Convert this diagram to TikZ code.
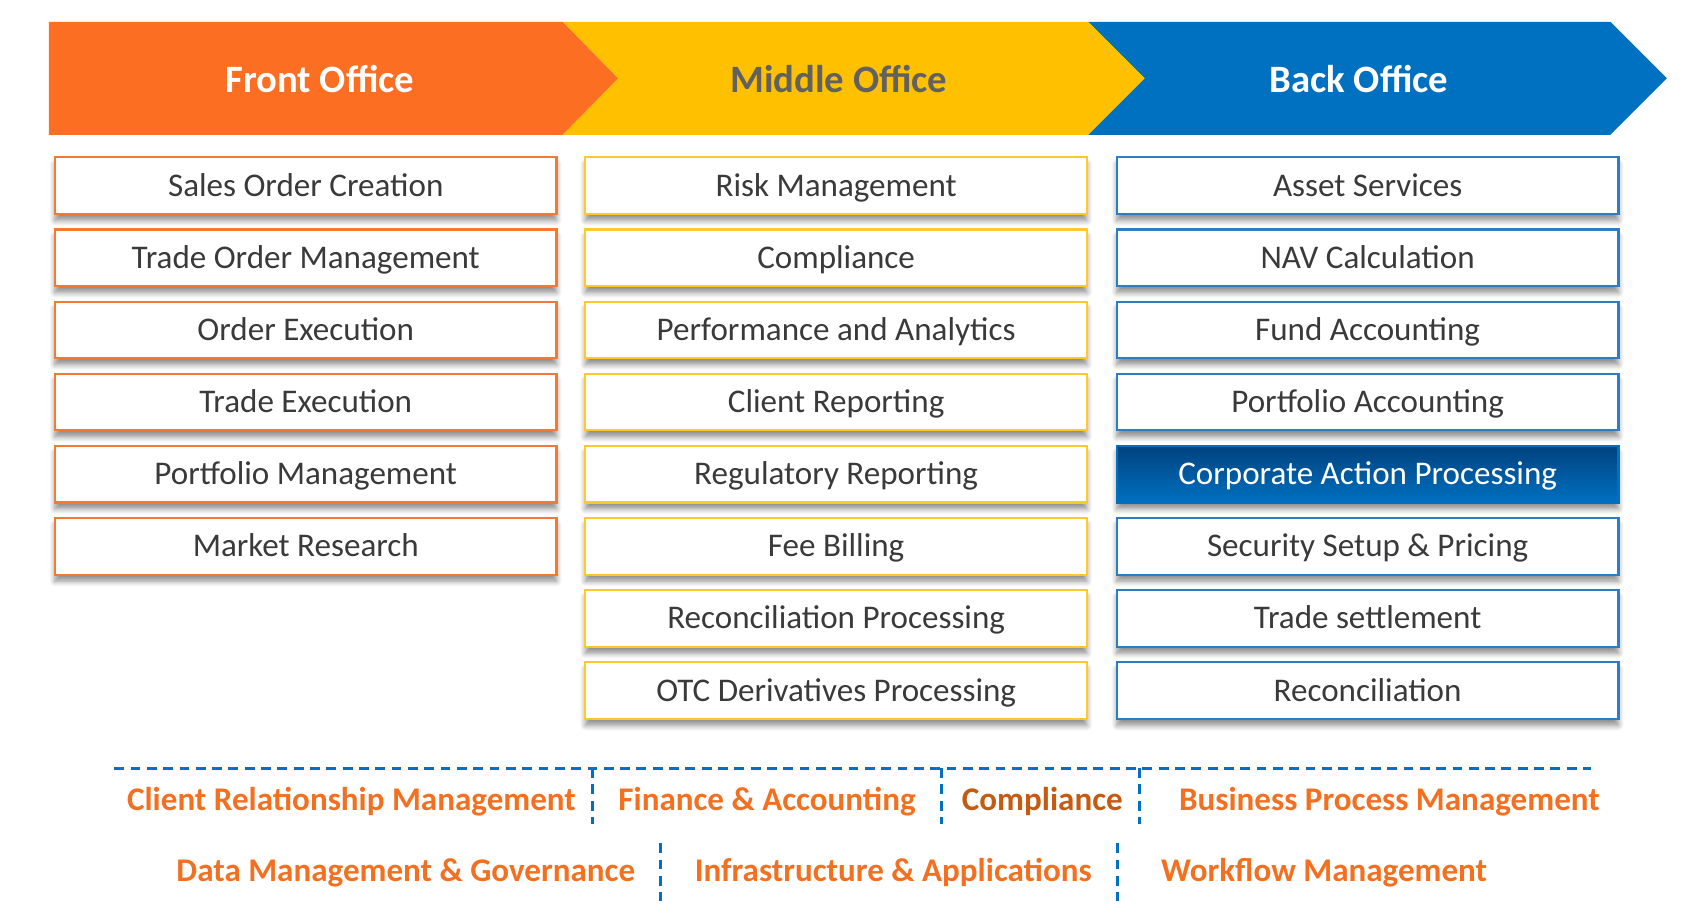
\documentclass[tikz,border=0pt]{standalone}
\usepackage{fontspec}
\setmainfont{Carlito}
\usetikzlibrary{shadows.blur}
\definecolor{fo}{HTML}{FC6E22}
\definecolor{mo}{HTML}{FFC000}
\definecolor{bo}{HTML}{0070C0}
\definecolor{fob}{HTML}{F7782F}
\definecolor{mob}{HTML}{FFC92A}
\definecolor{bob}{HTML}{2A7DC6}
\definecolor{txt}{HTML}{3A3A3A}
\definecolor{bt}{HTML}{F47021}
\definecolor{bt2}{HTML}{C55A11}
\definecolor{hdk}{HTML}{00427F}
\tikzset{
  boxbase/.style={draw, line width=1pt, fill=white, minimum width=230.5pt, minimum height=26pt,
    inner sep=0pt, text=txt, font=\fontsize{15.2}{17}\selectfont, text height=9.6pt, text depth=0pt,
    blur shadow={shadow xshift=0pt, shadow yshift=-3pt, shadow blur radius=2.5pt, shadow blur steps=6, shadow opacity=45}},
  fbox/.style={boxbase, draw=fob},
  mbox/.style={boxbase, draw=mob},
  bbox/.style={boxbase, draw=bob},
  hbox/.style={boxbase, draw=bo, top color=hdk, bottom color=bo, text=white, line width=1.2pt},
  head/.style={font=\fontsize{17.8}{20}\selectfont\bfseries},
  bottxt/.style={font=\fontsize{15.2}{17}\selectfont\bfseries, text=bt},
  sep/.style={draw=bo, line width=1.4pt, dash pattern=on 4.5pt off 3pt},
}
\begin{document}
\begin{tikzpicture}[x=0.5pt,y=-0.5pt]
\useasboundingbox (0,0) rectangle (1568,847.4);
% chevrons
\fill[bo] (1000,20) -- (1480,20) -- (1532,72) -- (1480,124) -- (1000,124) -- (1052,72) -- cycle;
\fill[mo] (517,20) -- (1000,20) -- (1052,72) -- (1000,124) -- (517,124) -- (568,72) -- cycle;
\fill[fo] (45,20) -- (517,20) -- (568,72) -- (517,124) -- (45,124) -- cycle;
\node[head, text=white] (hfo) at (294,73) {Front Office};
\node[head, text=black!62] (hmo) at (771,73) {Middle Office};
\node[head, text=white] (hbo) at (1249,73) {Back Office};
% columns
\foreach \t [count=\i] in {Sales Order Creation, Trade Order Management, Order Execution, Trade Execution, Portfolio Management, Market Research}
  \node[fbox] (f\i) at (281,{170.6+66.3*(\i-1)}) {\t};
\foreach \t [count=\i] in {Risk Management, Compliance, Performance and Analytics, Client Reporting, Regulatory Reporting, Fee Billing, Reconciliation Processing, OTC Derivatives Processing}
  \node[mbox] (m\i) at (768.5,{170.6+66.3*(\i-1)}) {\t};
\foreach \t [count=\i] in {Asset Services, NAV Calculation, Fund Accounting, Portfolio Accounting}
  \node[bbox] (b\i) at (1257,{170.6+66.3*(\i-1)}) {\t};
\node[hbox] (b5) at (1257,{170.6+66.3*4}) {Corporate Action Processing};
\foreach \t [count=\i from 6] in {Security Setup \& Pricing, Trade settlement, Reconciliation}
  \node[bbox] (b\i) at (1257,{170.6+66.3*(\i-1)}) {\t};
% bottom separators
\coordinate (l0) at (105,706);
\coordinate (l1) at (1462,706);
\draw[sep] (l0) -- (l1);
\foreach \x [count=\i] in {545,865,1047} {
  \coordinate (va\i) at (\x,706);
  \coordinate (vb\i) at (\x,757);
  \draw[sep] (va\i) -- (vb\i);
}
\foreach \x [count=\i] in {607,1027} {
  \coordinate (wa\i) at (\x,775);
  \coordinate (wb\i) at (\x,828);
  \draw[sep] (wa\i) -- (wb\i);
}
\node[bottxt] (crm) at (323,737) {Client Relationship Management};
\node[bottxt] (fa) at (705,737) {Finance \& Accounting};
\node[bottxt, text=bt2] (cp) at (958,737) {Compliance};
\node[bottxt] (bpm) at (1277,737) {Business Process Management};
\node[bottxt] (dmg) at (373,802) {Data Management \& Governance};
\node[bottxt] (ia) at (821,802) {Infrastructure \& Applications};
\node[bottxt] (wm) at (1217,802) {Workflow Management};
\end{tikzpicture}
\end{document}
